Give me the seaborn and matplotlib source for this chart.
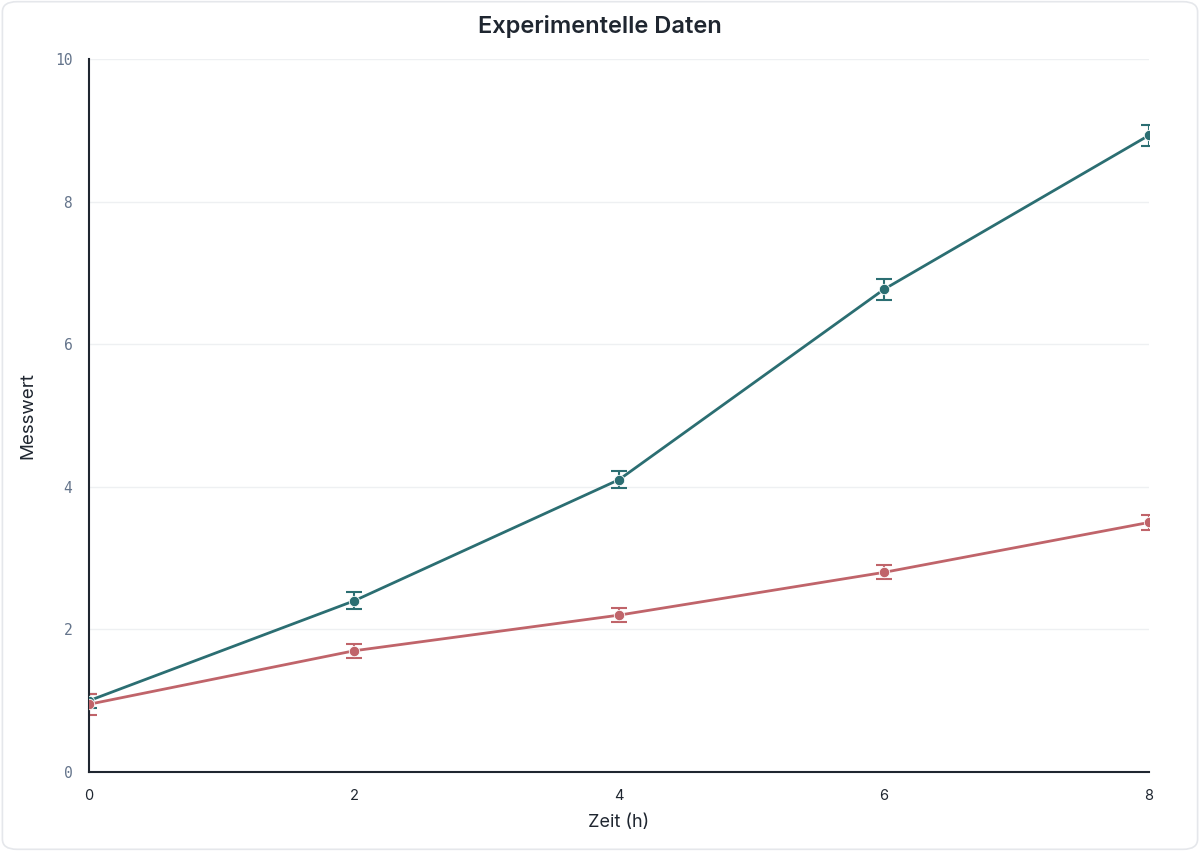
import matplotlib
matplotlib.use("Agg")
import matplotlib.pyplot as plt
import seaborn as sns
import pandas as pd
from matplotlib.patches import FancyBboxPatch

# Data
zeit = [0, 2, 4, 6, 8]
serie_a = [1.0, 2.4, 4.1, 6.77, 8.93]
fehler_a = [0.1, 0.12, 0.12, 0.15, 0.15]
serie_b = [0.95, 1.7, 2.2, 2.8, 3.5]
fehler_b = [0.15, 0.1, 0.1, 0.1, 0.1]

teal = "#2B6E72"
red = "#C0646A"

sns.set_theme(style="white")
plt.rcParams['font.family'] = ['Inter', 'DejaVu Sans']

df = pd.DataFrame({
    "Zeit": zeit * 2,
    "Wert": serie_a + serie_b,
    "Serie": ["A"] * len(zeit) + ["B"] * len(zeit),
})

fig = plt.figure(figsize=(12, 8.51), dpi=100)
fig.patch.set_facecolor("white")
border = FancyBboxPatch((0.002, 0.002), 0.996, 0.996, boxstyle="round,pad=0,rounding_size=0.012",
                        transform=fig.transFigure, facecolor="white", edgecolor="#e5e7eb",
                        linewidth=1.2, zorder=-10)
fig.patches.append(border)

ax = fig.add_axes([89/1200, (851-772)/851, (1149-89)/1200, (772-59)/851])
ax.set_facecolor("none")

sns.lineplot(data=df, x="Zeit", y="Wert", hue="Serie", palette={"A": teal, "B": red},
             marker="o", markersize=7.5, markeredgecolor="white", markeredgewidth=0.6,
             linewidth=2.0, legend=False, ax=ax, zorder=3)

for vals, errs, col in [(serie_a, fehler_a, teal), (serie_b, fehler_b, red)]:
    ax.errorbar(zeit, vals, yerr=errs, fmt="none", ecolor=col, elinewidth=1.5,
                capsize=6, capthick=1.5, zorder=2)

ax.set_xlim(0, 8)
ax.set_ylim(0, 10)
ax.set_xticks([0, 2, 4, 6, 8])
ax.set_yticks([0, 2, 4, 6, 8, 10])
ax.yaxis.grid(True, color="#eef0f2", linewidth=1.0)
ax.xaxis.grid(False)
for s in ["top", "right"]:
    ax.spines[s].set_visible(False)
for s in ["left", "bottom"]:
    ax.spines[s].set_color("#1f2630")
    ax.spines[s].set_linewidth(1.5)
ax.tick_params(axis="both", direction="out", length=6, width=1.2, color="#1f2630")
ax.tick_params(axis="x", labelsize=10.5, labelcolor="#1f2630", pad=6)
ax.tick_params(axis="y", labelsize=10.5, labelcolor="#64748b", pad=6)
for lab in ax.get_yticklabels():
    lab.set_family("DejaVu Sans Mono")

ax.set_xlabel("Zeit (h)", fontsize=13, color="#1f2630", labelpad=8)
ax.set_ylabel("Messwert", fontsize=13.5, color="#1f2630", labelpad=13)
fig.text(0.5, 1 - 27/851, "Experimentelle Daten", ha="center", va="center",
         fontsize=17, fontweight="semibold", color="#1f2630")

fig.savefig("out.png", dpi=100)
